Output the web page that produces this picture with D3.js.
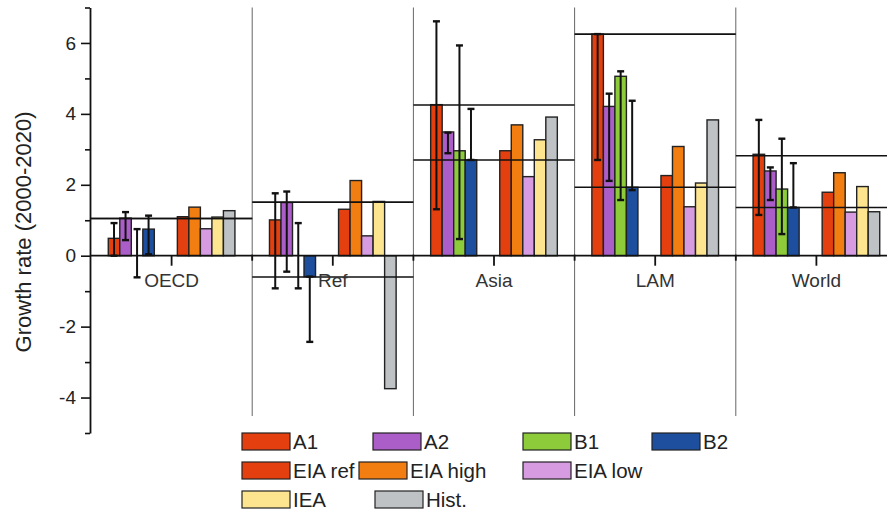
<!DOCTYPE html>
<html>
<head>
<meta charset="utf-8">
<script src="https://cdn.jsdelivr.net/npm/d3@7"></script>
<style>
  body { margin: 0; background: #fff; }
  svg text { font-family: "Liberation Sans", Arial, sans-serif; fill: #222; }
</style>
</head>
<body>
<svg id="chart" width="887" height="511"></svg>
<script>
// regions
var groups = ["OECD", "Ref", "Asia", "LAM", "World"];

// scenario bars (growth rate %, 2000-2020)
var A1 = [0.49, 1.01, 4.26, 6.25, 2.86];
var A2 = [1.06, 1.50, 3.49, 4.21, 2.39];
var B1 = [null, null, 2.96, 5.06, 1.88];
var B2 = [0.75, -0.59, 2.70, 1.93, 1.36];
var EIAref = [1.10, 1.31, 2.96, 2.26, 1.79];
var EIAhigh = [1.37, 2.12, 3.69, 3.08, 2.34];
var EIAlow = [0.76, 0.56, 2.23, 1.38, 1.23];
var IEA = [1.09, 1.53, 3.27, 2.05, 1.95];
var Hist = [1.27, -3.75, 3.91, 3.83, 1.24];

// error bar ranges for the SRES scenarios
var A1lo = [0.00, -0.92, 1.31, 2.70, 1.15], A1hi = [0.92, 1.76, 6.61, 6.25, 3.83];
var A2lo = [0.44, -0.45, 2.89, 2.11, 1.57], A2hi = [1.23, 1.81, 3.47, 4.57, 2.49];
var B1lo = [-0.61, -0.92, 0.47, 1.57, 0.61], B1hi = [0.75, 0.92, 5.93, 5.20, 3.30];
var B2lo = [0.04, -2.43, 2.70, 1.85, 1.36], B2hi = [1.13, -0.59, 4.14, 4.37, 2.61];

// horizontal reference lines per region
var refHi = [1.05, 1.51, 4.25, 6.25, 2.82];
var refLo = [1.05, -0.60, 2.70, 1.93, 1.36];

var yMajor = [-4, -2, 0, 2, 4, 6];
var yMinor = [-5, -3, -1, 1, 3, 5, 7];

var series = [
  { key: "A1", label: "A1", vals: A1, lo: A1lo, hi: A1hi, color: "#e4400f" },
  { key: "A2", label: "A2", vals: A2, lo: A2lo, hi: A2hi, color: "#ac5ec8" },
  { key: "B1", label: "B1", vals: B1, lo: B1lo, hi: B1hi, color: "#8dcb3b" },
  { key: "B2", label: "B2", vals: B2, lo: B2lo, hi: B2hi, color: "#1d4f9e" },
  { key: "EIAref", label: "EIA ref", vals: EIAref, color: "#e4400f" },
  { key: "EIAhigh", label: "EIA high", vals: EIAhigh, color: "#f27d10" },
  { key: "EIAlow", label: "EIA low", vals: EIAlow, color: "#d79be2" },
  { key: "IEA", label: "IEA", vals: IEA, color: "#fde590" },
  { key: "Hist", label: "Hist.", vals: Hist, color: "#bec2c5" }
];

var svg = d3.select("#chart");
var axisX = 90, plotTop = 7.5, plotBottom = 433;

var y = d3.scaleLinear().domain([-5, 7]).range([plotBottom, plotTop]);
var x = d3.scaleBand().domain(groups).range([91, 897]).padding(0);
// slots inside a region: 4 scenario bars, 2 empty, 5 projection bars
var slots = ["A1", "A2", "B1", "B2", "_g1", "_g2", "EIAref", "EIAhigh", "EIAlow", "IEA", "Hist"];
var xs = d3.scaleBand().domain(slots).range([0, x.bandwidth()]).paddingInner(0).paddingOuter(1.5);

// region separators
svg.append("g").selectAll("line")
  .data(groups.slice(1))
  .enter().append("line")
  .attr("x1", function (d) { return x(d); })
  .attr("x2", function (d) { return x(d); })
  .attr("y1", plotTop)
  .attr("y2", 416)
  .attr("stroke", "#666")
  .attr("stroke-width", 1);

// bars
var rows = [];
groups.forEach(function (g, i) {
  series.forEach(function (s) {
    if (s.vals[i] != null) rows.push({ g: g, s: s, v: s.vals[i] });
  });
});

svg.append("g").selectAll("rect")
  .data(rows)
  .enter().append("rect")
  .attr("x", function (d) { return x(d.g) + xs(d.s.key); })
  .attr("width", xs.bandwidth())
  .attr("y", function (d) { return y(Math.max(0, d.v)); })
  .attr("height", function (d) { return Math.abs(y(d.v) - y(0)); })
  .attr("fill", function (d) { return d.s.color; })
  .attr("stroke", "#222")
  .attr("stroke-width", 1.4);

// reference lines
var refRows = [];
groups.forEach(function (g, i) {
  refRows.push({ g: g, v: refHi[i] });
  refRows.push({ g: g, v: refLo[i] });
});
svg.append("g").selectAll("line")
  .data(refRows)
  .enter().append("line")
  .attr("x1", function (d) { return d.g == "OECD" ? axisX : x(d.g); })
  .attr("x2", function (d) { return x(d.g) + x.bandwidth(); })
  .attr("y1", function (d) { return y(d.v); })
  .attr("y2", function (d) { return y(d.v); })
  .attr("stroke", "#111")
  .attr("stroke-width", 1.6);

// zero axis
svg.append("line")
  .attr("x1", axisX).attr("x2", 887)
  .attr("y1", y(0)).attr("y2", y(0))
  .attr("stroke", "#111").attr("stroke-width", 1.8);

svg.append("g").selectAll("line")
  .data(groups)
  .enter().append("line")
  .attr("x1", function (d) { return x(d) + x.bandwidth() / 2; })
  .attr("x2", function (d) { return x(d) + x.bandwidth() / 2; })
  .attr("y1", y(0)).attr("y2", y(0) + 10)
  .attr("stroke", "#111").attr("stroke-width", 1.8);

svg.append("g").selectAll("line")
  .data(groups.slice(1))
  .enter().append("line")
  .attr("x1", function (d) { return x(d); })
  .attr("x2", function (d) { return x(d); })
  .attr("y1", y(0) - 1).attr("y2", y(0) + 5)
  .attr("stroke", "#111").attr("stroke-width", 1.8);

svg.append("g").selectAll("text")
  .data(groups)
  .enter().append("text")
  .attr("x", function (d) { return x(d) + x.bandwidth() / 2; })
  .attr("y", 287)
  .attr("text-anchor", "middle")
  .style("font-size", "19px")
  .style("fill", "#333")
  .text(function (d) { return d; });

// error bars
var errRows = [];
groups.forEach(function (g, i) {
  series.forEach(function (s) {
    if (s.lo) errRows.push({ g: g, s: s, lo: s.lo[i], hi: s.hi[i] });
  });
});
var eg = svg.append("g").selectAll("g")
  .data(errRows)
  .enter().append("g")
  .attr("transform", function (d) { return "translate(" + (x(d.g) + xs(d.s.key) + xs.bandwidth() / 2) + ",0)"; });
eg.append("line")
  .attr("y1", function (d) { return y(d.lo); })
  .attr("y2", function (d) { return y(d.hi); })
  .attr("stroke", "#111").attr("stroke-width", 2);
eg.append("line")
  .attr("x1", -3.5).attr("x2", 3.5)
  .attr("y1", function (d) { return y(d.hi); })
  .attr("y2", function (d) { return y(d.hi); })
  .attr("stroke", "#111").attr("stroke-width", 2.4);
eg.append("line")
  .attr("x1", -3.5).attr("x2", 3.5)
  .attr("y1", function (d) { return y(d.lo); })
  .attr("y2", function (d) { return y(d.lo); })
  .attr("stroke", "#111").attr("stroke-width", 2.4);

// y axis
var yAxis = svg.append("g")
  .attr("transform", "translate(" + axisX + ",0)")
  .call(d3.axisLeft(y).tickValues(yMajor).tickSize(9).tickSizeOuter(0).tickPadding(5)
    .tickFormat(function (d) { return String(d); }));
yAxis.select(".domain").attr("stroke", "#111").attr("stroke-width", 1.8);
yAxis.selectAll(".tick line").attr("stroke", "#111").attr("stroke-width", 1.6);
yAxis.selectAll(".tick text").style("font-size", "19px").style("font-family", "Liberation Sans, Arial, sans-serif").attr("fill", "#222");

var yMinorAxis = svg.append("g")
  .attr("transform", "translate(" + axisX + ",0)")
  .call(d3.axisLeft(y).tickValues(yMinor).tickSize(5).tickFormat(""));
yMinorAxis.select(".domain").remove();
yMinorAxis.selectAll(".tick line").attr("stroke", "#111").attr("stroke-width", 1.6);

svg.append("text")
  .attr("transform", "translate(31," + y(0.67) + ") rotate(-90)")
  .attr("text-anchor", "middle")
  .style("font-size", "22px")
  .text("Growth rate (2000-2020)");

// legend
var legendPos = [
  ["A1", 242, 0], ["A2", 373, 0], ["B1", 523, 0], ["B2", 652, 0],
  ["EIAref", 242, 1], ["EIAhigh", 359, 1], ["EIAlow", 523, 1],
  ["IEA", 242, 2], ["Hist", 375, 2]
];
var lg = svg.append("g").selectAll("g")
  .data(legendPos)
  .enter().append("g")
  .attr("transform", function (d) { return "translate(" + d[1] + "," + (433 + d[2] * 29) + ")"; });
lg.append("rect")
  .attr("width", 48).attr("height", 17)
  .attr("fill", function (d) { return series.find(function (s) { return s.key == d[0]; }).color; })
  .attr("stroke", "#222").attr("stroke-width", 1.2);
lg.append("text")
  .attr("x", 51).attr("y", 16)
  .style("font-size", "20.5px")
  .text(function (d) { return series.find(function (s) { return s.key == d[0]; }).label; });
</script>
</body>
</html>
